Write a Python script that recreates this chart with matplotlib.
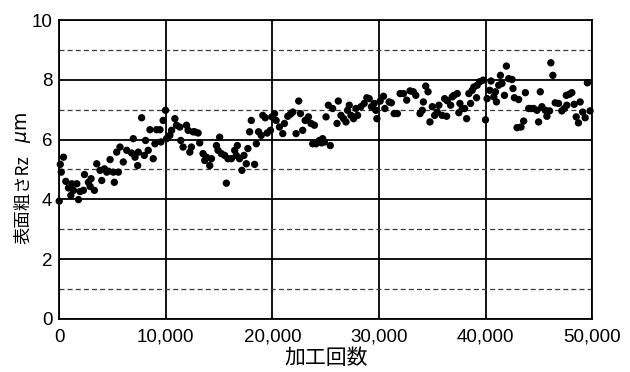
import matplotlib

matplotlib.use("Agg")

import matplotlib.pyplot as plt
from matplotlib.ticker import FuncFormatter, MultipleLocator

# machining count vs. surface roughness Rz (um)
cycles = [
    0, 100, 190, 400, 620, 870, 1090, 1190, 1340, 1650,
    1810, 1960, 2270, 2370, 2740, 2900, 2990, 3300, 3520, 3830,
    3990, 4240, 4460, 4610, 4770, 5080, 5170, 5390, 5550, 5700,
    6010, 6330, 6790, 6950, 7110, 7360, 7420, 7730, 7980, 8100,
    8350, 8510, 8820, 8980, 9140, 9450, 9540, 9750, 9970, 10070,
    10380, 10540, 10850, 11000, 11310, 11400, 11620, 11940, 12090, 12250,
    12400, 12560, 12720, 13030, 13180, 13490, 13650, 13810, 14120, 14280,
    14750, 14900, 15050, 15210, 15520, 15680, 15830, 16150, 16460, 16610,
    16710, 16920, 17140, 17330, 17550, 17700, 17860, 18020, 18330, 18490,
    18700, 18950, 19100, 19330, 19510, 19820, 19950, 20200, 20350, 20660,
    20970, 21130, 21440, 21690, 21910, 22220, 22470, 22630, 22840, 23070,
    23380, 23620, 23780, 23940, 24090, 24400, 24620, 24710, 24870, 25030,
    25250, 25430, 25650, 26060, 26180, 26430, 26680, 26900, 27050, 27210,
    27370, 27610, 27840, 27990, 28300, 28610, 28860, 29080, 29290, 29550,
    29700, 29800, 30110, 30420, 30550, 30950, 31160, 31420, 31720, 31980,
    32290, 32600, 32910, 33220, 33450, 33850, 34060, 34160, 34380, 34600,
    34780, 35000, 35220, 35470, 35620, 35930, 36160, 36340, 36400, 36720,
    36870, 37030, 37340, 37490, 37590, 37810, 38030, 38220, 38430, 38590,
    38740, 38900, 39150, 39210, 39460, 39770, 39990, 40140, 40390, 40510,
    40770, 40920, 41020, 41230, 41390, 41540, 41770, 41950, 42170, 42480,
    42570, 42700, 42950, 43100, 43320, 43570, 43730, 44040, 44250, 44510,
    44820, 44970, 45130, 45280, 45600, 45750, 46000, 46120, 46310, 46530,
    46840, 47150, 47380, 47570, 47620, 47870, 48090, 48310, 48500, 48710,
    48870, 49110, 49340, 49550, 49800,
]
rz = [
    3.94, 5.17, 4.91, 5.41, 4.60, 4.38, 4.13, 4.52, 4.30, 4.52,
    3.99, 4.26, 4.30, 4.83, 4.57, 4.43, 4.69, 4.30, 5.19, 4.97,
    4.63, 5.02, 4.91, 4.94, 5.33, 4.91, 4.57, 5.58, 4.91, 5.75,
    5.25, 5.64, 5.55, 6.03, 5.41, 5.13, 5.58, 6.73, 5.47, 5.97,
    5.64, 6.33, 5.36, 5.86, 6.33, 6.33, 5.92, 6.64, 6.98, 6.03,
    6.14, 6.31, 6.70, 6.48, 6.42, 5.97, 5.75, 6.48, 6.31, 5.58,
    5.75, 6.26, 6.26, 6.22, 5.89, 5.53, 5.30, 5.41, 5.13, 5.36,
    5.80, 5.64, 6.08, 5.53, 5.47, 4.54, 5.36, 5.36, 5.64, 5.47,
    5.80, 5.36, 4.97, 5.47, 5.19, 5.70, 6.26, 6.64, 5.17, 5.86,
    6.26, 6.14, 6.81, 6.73, 6.22, 6.31, 6.76, 6.87, 6.64, 6.42,
    6.20, 6.54, 6.78, 6.85, 6.92, 6.20, 7.29, 6.87, 6.31, 6.64,
    6.76, 6.54, 5.86, 6.48, 5.86, 5.97, 5.89, 6.03, 5.92, 6.76,
    7.15, 5.80, 7.04, 6.54, 7.29, 6.81, 6.70, 6.59, 6.98, 7.15,
    6.81, 6.70, 7.04, 6.81, 7.10, 7.21, 7.40, 7.37, 7.10, 7.21,
    6.98, 6.70, 7.29, 7.45, 7.04, 7.26, 7.23, 6.87, 6.87, 7.54,
    7.54, 7.32, 7.63, 7.60, 7.48, 6.87, 6.98, 7.26, 7.79, 7.60,
    6.59, 7.10, 6.81, 6.92, 7.15, 6.81, 7.37, 6.78, 7.30, 7.15,
    7.43, 7.48, 7.54, 6.90, 7.21, 7.04, 7.04, 6.70, 7.54, 7.21,
    7.65, 7.76, 7.40, 7.82, 7.94, 7.99, 6.66, 7.37, 7.65, 7.96,
    7.43, 7.60, 7.26, 7.82, 8.15, 7.88, 7.48, 8.46, 8.04, 8.01,
    7.71, 7.40, 6.40, 7.34, 6.42, 6.62, 7.57, 7.04, 7.04, 7.04,
    6.98, 6.59, 7.60, 7.10, 6.98, 6.78, 6.96, 8.57, 8.15, 7.23,
    7.21, 6.96, 7.04, 7.48, 7.15, 7.52, 7.57, 7.18, 6.76, 6.56,
    7.26, 6.92, 6.73, 7.90, 6.96,
]

LATIN = ["Liberation Sans", "Noto Sans CJK JP"]
CJK = ["Noto Sans CJK JP", "Liberation Sans"]

fig = plt.figure(figsize=(6.3, 3.72), dpi=100)
ax = fig.add_axes([0.094, 0.143, 0.846, 0.803])

ax.scatter(cycles, rz, s=28, color="black", edgecolors="none", zorder=3, clip_on=False)

ax.set_xlim(0, 50000)
ax.set_ylim(0, 10)
ax.xaxis.set_major_locator(MultipleLocator(10000))
ax.yaxis.set_major_locator(MultipleLocator(2))
ax.yaxis.set_minor_locator(MultipleLocator(1))
ax.xaxis.set_major_formatter(FuncFormatter(lambda v, _: f"{int(v):,}"))

ax.set_axisbelow(True)
ax.grid(axis="x", which="major", color="black", linewidth=1.3)
ax.grid(axis="y", which="major", color="black", linewidth=1.3)
ax.grid(axis="y", which="minor", color="#3a3a3a", linewidth=0.9, linestyle=(0, (4, 2.5)))

for spine in ax.spines.values():
    spine.set_linewidth(1.3)
    spine.set_color("black")

ax.tick_params(which="both", length=0)
ax.tick_params(axis="x", pad=7)
ax.tick_params(axis="y", pad=5)
for label in ax.get_xticklabels() + ax.get_yticklabels():
    label.set_family(LATIN)
    label.set_fontsize(13.5)

ax.set_xlabel("加工回数", family=CJK, fontsize=15, labelpad=1)

# y label: japanese part, a gap, then the unit with an italic micro sign
fig.text(0.037, 0.345, "表面粗さRz", family=CJK, fontsize=12.5, rotation=90,
         ha="center", va="bottom")
fig.text(0.037, 0.615, r"$\mu$m", fontsize=13.5, rotation=90,
         ha="center", va="bottom")

fig.savefig("out.png", dpi=100)
